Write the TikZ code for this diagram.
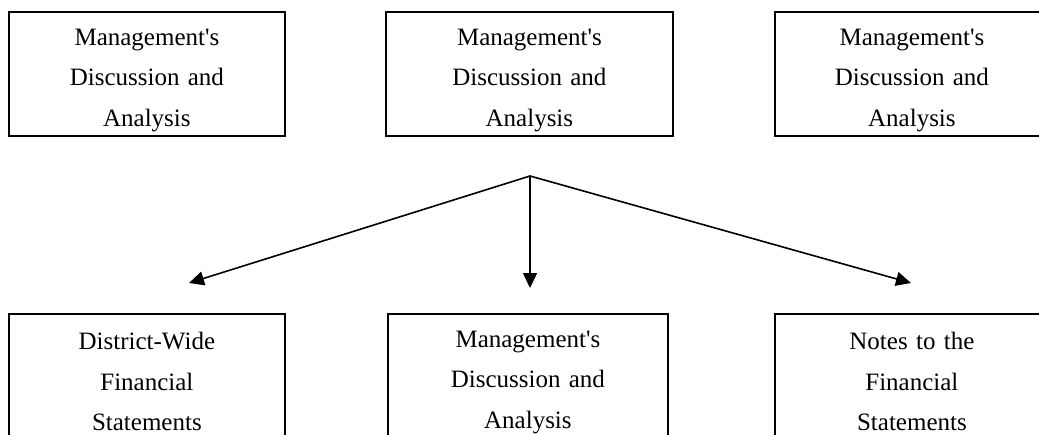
\documentclass[tikz,border=0pt]{standalone}
\usepackage{fontspec}
\setmainfont{Liberation Serif}
\usetikzlibrary{arrows.meta}
\tikzset
  {mdabox/.style={draw=black, line width=1.8pt, minimum width=#1, minimum height=124pt,
                  text width=250pt, align=center, inner xsep=2pt, text height=29pt,
                  font=\fontsize{25}{40.5}\selectfont, anchor=north west},
   mdabox/.default={280pt},
   flow/.style={draw=black, line width=1.6pt, -{Triangle[length=15pt,width=14pt]}}}
\newcommand{\mdatext}{Management\textquotesingle s\\Discussion and\\Analysis}

\begin{document}
\begin{tikzpicture}[x=1pt,y=-1pt]
 \useasboundingbox (0,0) rectangle (1039,434);
 \clip (0,0) rectangle (1039,434);

 % top row
 \node[mdabox=276pt] (TL) at (8,11)   {\mdatext};
 \node[mdabox=287pt] (TM) at (385,11) {\mdatext};
 \node[mdabox=274pt] (TR) at (774,11) {\mdatext};

 % bottom row
 \node[mdabox=276pt] (BL) at (8,313)   {District-Wide\\Financial\\Statements};
 \node[mdabox=280pt] (BM) at (387,313) {\mdatext};
 \node[mdabox=274pt] (BR) at (774,313) {Notes to the\\Financial\\Statements};

 % arrows
 \coordinate (fork)    at (530,176);
 \coordinate (toDW)    at (189,283);
 \coordinate (toMDA)   at (530,288);
 \coordinate (toNotes) at (911,283);

 \draw[flow] (fork) -- (toDW);
 \draw[flow] (fork) -- (toMDA);
 \draw[flow] (fork) -- (toNotes);
\end{tikzpicture}
\end{document}
